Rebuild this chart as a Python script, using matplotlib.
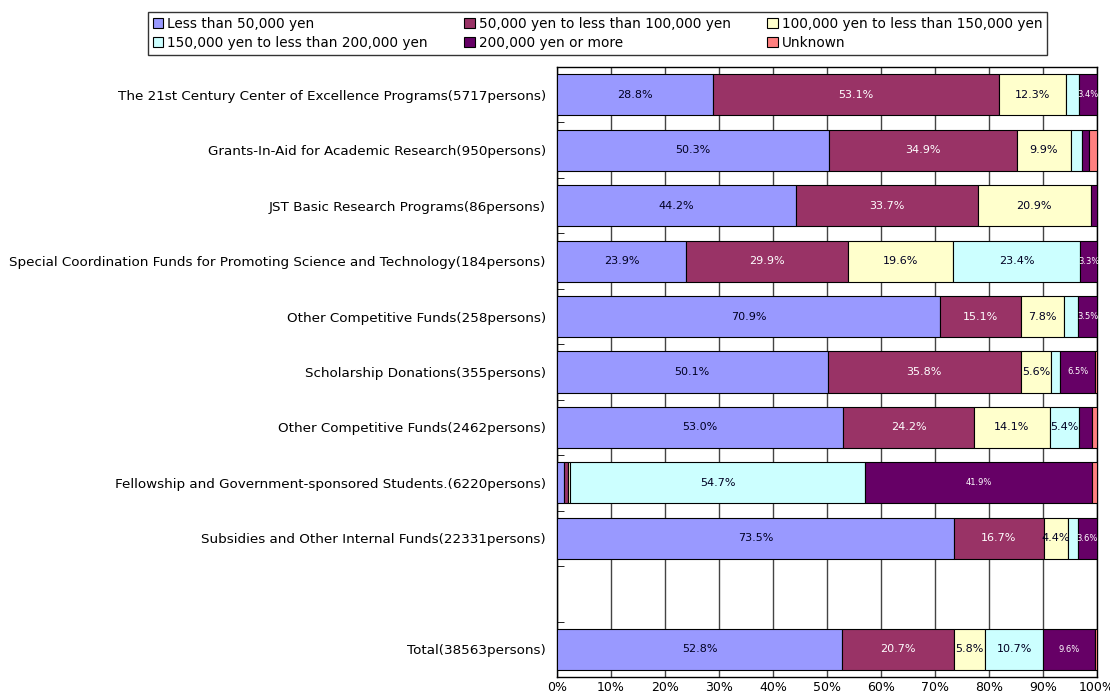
import matplotlib
matplotlib.use("Agg")
import matplotlib.pyplot as plt
import numpy as np
from matplotlib.patches import Patch

categories = [
    "The 21st Century Center of Excellence Programs(5717persons)",
    "Grants-In-Aid for Academic Research(950persons)",
    "JST Basic Research Programs(86persons)",
    "Special Coordination Funds for Promoting Science and Technology(184persons)",
    "Other Competitive Funds(258persons)",
    "Scholarship Donations(355persons)",
    "Other Competitive Funds(2462persons)",
    "Fellowship and Government-sponsored Students.(6220persons)",
    "Subsidies and Other Internal Funds(22331persons)",
    "",
    "Total(38563persons)",
]

series_names = [
    "Less than 50,000 yen",
    "50,000 yen to less than 100,000 yen",
    "100,000 yen to less than 150,000 yen",
    "150,000 yen to less than 200,000 yen",
    "200,000 yen or more",
    "Unknown",
]

less_50k      = [28.8, 50.3, 44.2, 23.9, 70.9, 50.1, 53.0, 1.3, 73.5, 0.0, 52.8]
k50_to_100k   = [53.1, 34.9, 33.7, 29.9, 15.1, 35.8, 24.2, 0.7, 16.7, 0.0, 20.7]
k100_to_150k  = [12.3,  9.9, 20.9, 19.6,  7.8,  5.6, 14.1, 0.4,  4.4, 0.0,  5.8]
k150_to_200k  = [ 2.4,  2.1,  0.0, 23.4,  2.7,  1.7,  5.4, 54.7, 1.8, 0.0, 10.7]
k200_plus     = [ 3.4,  1.3,  1.2,  3.3,  3.5,  6.5,  2.3, 41.9, 3.6, 0.0,  9.6]
unknown       = [ 0.0,  1.5,  0.0,  0.0,  0.0,  0.3,  1.0,  1.0, 0.0, 0.0,  0.4]

series = [less_50k, k50_to_100k, k100_to_150k, k150_to_200k, k200_plus, unknown]
colors = ["#9999FF", "#993366", "#FFFFCC", "#CCFFFF", "#660066", "#FF8080"]
text_colors = ["#000022", "#FFFFFF", "#000022", "#000022", "#FFFFFF", "#000022"]
text_sizes = [8, 8, 8, 8, 6, 6]

fig = plt.figure(figsize=(11.10, 6.98), dpi=100)
ax = fig.add_axes([557/1110, 1 - 677/698, 540/1110, 610/698])

y = np.arange(len(categories))
left = np.zeros(len(categories))
for vals, c, tc, ts in zip(series, colors, text_colors, text_sizes):
    vals = np.array(vals, dtype=float)
    mask = vals > 0
    ax.barh(y[mask], vals[mask], left=left[mask], height=0.74, color=c,
            edgecolor="black", linewidth=0.8, zorder=3)
    for yi, v, l in zip(y, vals, left):
        if v >= 3.0:
            ax.text(l + v / 2, yi, f"{v:.1f}%", ha="center", va="center",
                    color=tc, fontsize=ts, zorder=4)
    left += vals

ax.set_xlim(0, 100)
ax.set_ylim(len(categories) - 0.5, -0.5)
ax.set_xticks(np.arange(0, 101, 10))
ax.set_xticklabels([f"{v}%" for v in range(0, 101, 10)], fontsize=9)
ax.xaxis.grid(True, color="#444444", linewidth=1, zorder=0)
ax.tick_params(axis="x", length=0, pad=3)

ax.set_yticks(y)
ax.set_yticklabels(categories, fontsize=9.7)
ax.tick_params(axis="y", length=0, pad=8)
ax.set_yticks(np.arange(0.5, len(categories) - 0.5, 1), minor=True)
ax.tick_params(axis="y", which="minor", direction="in", length=5, color="black")

for s in ax.spines.values():
    s.set_color("black")
    s.set_linewidth(1)

handles = [Patch(facecolor=c, edgecolor="black", linewidth=0.8) for c in colors]
order = [0, 3, 1, 4, 2, 5]
leg = fig.legend([handles[i] for i in order], [series_names[i] for i in order],
                 ncol=3, loc="upper left",
                 bbox_to_anchor=(148/1110, 1 - 12/698),
                 fontsize=9.8, frameon=True, fancybox=False,
                 edgecolor="black", handlelength=0.75, handleheight=0.75,
                 handletextpad=0.3, borderaxespad=0, borderpad=0.35,
                 labelspacing=0.4, columnspacing=2.7)
leg.get_frame().set_linewidth(1)

fig.savefig("out.png", dpi=100)
